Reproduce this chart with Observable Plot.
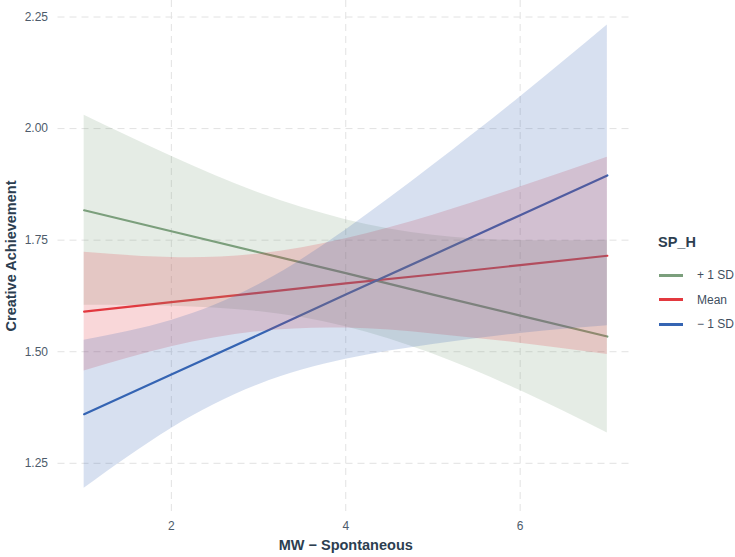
<!DOCTYPE html>
<html>
<head>
<meta charset="utf-8">
<script src="https://cdn.jsdelivr.net/npm/d3@7"></script>
<script src="https://cdn.jsdelivr.net/npm/@observablehq/plot@0.6"></script>
<style>
  html, body { margin: 0; padding: 0; background: #fff; }
  #wrap { position: relative; width: 735px; height: 557px; font-family: "Liberation Sans", Arial, sans-serif; }
  #legend { position: absolute; left: 659px; top: 234px; color: #2c3e50; white-space: nowrap; }
  #legend .title { font-weight: bold; font-size: 14.5px; line-height: 16px; height: 16px; margin-bottom: 13px; margin-left: -1px; }
  #legend .row { display: flex; align-items: center; height: 24.5px; font-size: 12px; color: #3f4f60; }
  #legend .key { display: inline-block; width: 24px; height: 3px; margin-right: 14px; flex: none; }
</style>
</head>
<body>
<div id="wrap"></div>
<script>
// ---- data ----
const xValues = [1, 2, 3, 4, 5, 6, 7];
const levels = ["+ 1 SD", "Mean", "− 1 SD"];
const levelColors = ["#7b9f7c", "#e3393f", "#3565b3"];

// predicted values
const plusPred  = [1.817, 1.770, 1.723, 1.676, 1.628, 1.581, 1.534];
const meanPred  = [1.590, 1.611, 1.632, 1.653, 1.673, 1.694, 1.715];
const minusPred = [1.360, 1.449, 1.538, 1.628, 1.717, 1.806, 1.895];

// confidence band edges
const plusLow   = [1.604, 1.602, 1.590, 1.556, 1.495, 1.413, 1.318];
const plusHigh  = [2.030, 1.938, 1.856, 1.796, 1.761, 1.749, 1.750];
const meanLow   = [1.457, 1.511, 1.545, 1.553, 1.540, 1.519, 1.494];
const meanHigh  = [1.723, 1.711, 1.719, 1.753, 1.806, 1.869, 1.936];
const minusLow  = [1.194, 1.328, 1.426, 1.483, 1.516, 1.541, 1.558];
const minusHigh = [1.526, 1.570, 1.650, 1.773, 1.918, 2.071, 2.232];

const yTicks = [1.25, 1.50, 1.75, 2.00, 2.25];
const xTicks = [2, 4, 6];

// ---- build table ----
const series = [
  {level: levels[0], pred: plusPred,  lo: plusLow,  hi: plusHigh},
  {level: levels[1], pred: meanPred,  lo: meanLow,  hi: meanHigh},
  {level: levels[2], pred: minusPred, lo: minusLow, hi: minusHigh}
];
const rows = series.flatMap(s => xValues.map((x, i) => ({
  x, level: s.level, pred: s.pred[i], lo: s.lo[i], hi: s.hi[i]
})));

const grid = {stroke: "#e2e2e2", strokeWidth: 1, strokeDasharray: "7,5"};

const chart = Plot.plot({
  width: 735,
  height: 557,
  marginLeft: 57.5,
  marginRight: 102,
  marginTop: 0,
  marginBottom: 46,
  style: {fontFamily: "'Liberation Sans', Arial, sans-serif", color: "#4d5b6b", background: "#fff"},
  x: {domain: [0.7, 7.3]},
  y: {domain: [1.142, 2.287]},
  color: {domain: levels, range: levelColors},
  marks: [
    Plot.ruleY(yTicks, {...grid}),
    Plot.ruleX(xTicks, {...grid}),
    Plot.line(rows, {x: "x", y: "pred", stroke: "level", z: "level", strokeWidth: 2.2}),
    Plot.areaY(rows, {x: "x", y1: "lo", y2: "hi", fill: "level", z: "level", fillOpacity: 0.2, curve: "natural"}),
    Plot.axisY(yTicks, {tickSize: 0, tickPadding: 10, fontSize: 12, tickFormat: d3.format(".2f"), label: null}),
    Plot.axisX(xTicks, {tickSize: 0, tickPadding: 10, fontSize: 12, label: null}),
    Plot.text(["Creative Achievement"], {frameAnchor: "left", textAnchor: "middle", dx: -47, rotate: -90, fontWeight: "bold", fontSize: 14.5, fill: "#2c3e50"}),
    Plot.text(["MW − Spontaneous"], {frameAnchor: "bottom", textAnchor: "middle", dy: 38, fontWeight: "bold", fontSize: 14.5, fill: "#2c3e50"})
  ]
});

const wrap = document.getElementById("wrap");
wrap.appendChild(chart);

const legend = document.createElement("div");
legend.id = "legend";
legend.innerHTML = `<div class="title">SP_H</div>` + levels.map((l, i) =>
  `<div class="row"><span class="key" style="background:${levelColors[i]}"></span><span>${l}</span></div>`).join("");
wrap.appendChild(legend);
</script>
</body>
</html>
